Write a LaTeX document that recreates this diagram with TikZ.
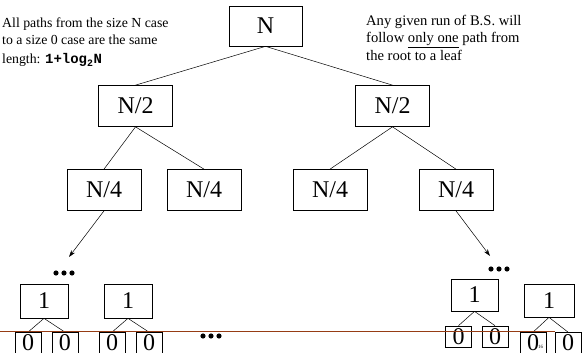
\documentclass[tikz,border=0pt]{standalone}
\usepackage{fontspec}
\setmainfont{Liberation Serif}
\setmonofont{Liberation Mono}
\usetikzlibrary{arrows.meta}
\definecolor{rule}{RGB}{150,60,20}
\begin{document}
\begin{tikzpicture}[x=1pt,y=-1pt,
  box/.style={draw, line width=0.7pt, inner sep=0pt, fill=white,
    font=\fontsize{24}{24}\selectfont},
  big/.style={box, minimum width=74pt, minimum height=41pt},
  one/.style={box, minimum width=48pt, minimum height=34pt},
  zero/.style={box, minimum width=26pt, minimum height=21pt},
  edge/.style={line width=0.5pt},
  ptr/.style={line width=0.5pt, -{Stealth[length=7pt,width=4.5pt]}},
  note/.style={anchor=base west, inner sep=0pt, font=\fontsize{13.8}{16}\selectfont},
  rnote/.style={anchor=base west, inner sep=0pt, font=\fontsize{14.6}{17}\selectfont},
  dot/.style={fill=black}]
\useasboundingbox (0,0) rectangle (582,353);

% tree boxes
\node[big, minimum width=73pt, minimum height=40pt] (N) at (265.5,26) {N};
\node[big] (L) at (135.5,106) {N/2};
\node[big] (R) at (392.5,106) {N/2};
\node[big] (LL) at (104,190) {N/4};
\node[big] (LR) at (204,190) {N/4};
\node[big] (RL) at (330,190) {N/4};
\node[big] (RR) at (456,190) {N/4};

\draw[edge] (N.south) -- (L.north);
\draw[edge] (N.south) -- (R.north);
\draw[edge] (L.south) -- (LL.north);
\draw[edge] (L.south) -- (LR.north);
\draw[edge] (R.south) -- (RL.north);
\draw[edge] (R.south) -- (RR.north);

% arrows to the dots
\coordinate (al) at (69,257);
\coordinate (ar) at (490,256);
\draw[ptr] (LL.south) -- (al);
\draw[ptr] (RR.south) -- (ar);

% dots
\foreach \x/\y in {56/273,64/273,72/273, 491/269,499/269,507/269, 203/336,211/336,219/336}
  \fill[dot] (\x,\y) circle (2.6pt);

% leaf level
\node[one] (A) at (44,301) {1};
\node[one] (B) at (128,301) {1};
\node[one, minimum width=47pt, minimum height=32pt] (C) at (474.5,295) {1};
\node[one, minimum width=50pt, minimum height=33pt] (D) at (549,300.5) {1};

\node[zero] (A1) at (28,343) {0};
\node[zero] (A2) at (65,343) {0};
\node[zero] (B1) at (112,343) {0};
\node[zero] (B2) at (149,343) {0};
\node[zero] (C1) at (458.5,336.5) {0};
\node[zero] (C2) at (495,336.5) {0};
\node[zero] (D1) at (533,343) {0\hspace{9pt}};
\node[zero] (D2) at (568,343) {0};
\node[inner sep=0pt, font=\fontsize{5}{5}\selectfont] (pg) at (540.5,347) {16};

\foreach \p/\c in {A/A1,A/A2,B/B1,B/B2,C/C1,C/C2,D/D1,D/D2}
  \draw[edge] (\p.south) -- (\c.north);

% horizontal rule
\coordinate (hl) at (0,331);
\coordinate (hr) at (555,331);
\draw[rule, line width=0.8pt] (hl) -- (hr);

% notes
\node[note] (t1) at (2,28) {All paths from the size N case};
\node[note] (t2) at (2,45) {to a size 0 case are the same};
\node[note] (t3) at (2,64) {length: {\ttfamily\bfseries\fontsize{14}{16}\selectfont 1+log\textsubscript{2}N}};

\node[rnote] (r1) at (366,26) {Any given run of B.S. will};
\node[rnote] (r2) at (366,43) {follow \underline{only one} path from};
\node[rnote] (r3) at (366,61) {the root to a leaf};
\end{tikzpicture}
\end{document}
